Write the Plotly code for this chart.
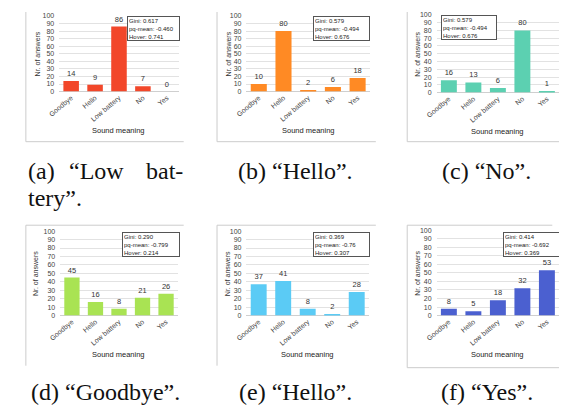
import plotly.graph_objects as go

VW, VH = 567, 409          # browser viewport
OFF = 8                    # default body margin of the html page
W, H = VW - OFF, VH - OFF  # figure size so that it fits the viewport

categories = ["Goodbye", "Hello", "Low battery", "No", "Yes"]
vals_a = [14, 9, 86, 7, 0]
vals_b = [10, 80, 2, 6, 18]
vals_c = [16, 13, 6, 80, 1]
vals_d = [45, 16, 8, 21, 26]
vals_e = [37, 41, 8, 2, 28]
vals_f = [8, 5, 18, 32, 53]
series = [vals_a, vals_b, vals_c, vals_d, vals_e, vals_f]

gini = ["0.617", "0.579", "0.579", "0.290", "0.369", "0.414"]
pq_mean = ["-0.460", "-0.494", "-0.494", "-0.799", "-0.76", "-0.692"]
hoyer = ["0.741", "0.676", "0.676", "0.214", "0.307", "0.369"]
y_ticks = [0, 10, 20, 30, 40, 50, 60, 70, 80, 90, 100]

captions = ["(b) \u201cHello\u201d.", "(c) \u201cNo\u201d.",
            "(d) \u201cGoodbye\u201d.", "(e) \u201cHello\u201d.", "(f) \u201cYes\u201d."]
caption_a = ["(a)", "\u201cLow", "bat-", "tery\u201d."]

colors = ["#F2472A", "#FF8A24", "#5CD0B1", "#A9E353", "#5BCBF5", "#4B60D0"]

# pixel geometry (viewport pixels) of each panel: plot area, stats box, y-title x
panels = [
    dict(x0=49, x1=171, yt=12, yb=89, box=(118, 12, 171, 37), ytx=27),
    dict(x0=240, x1=366, yt=12, yb=89, box=(308, 12, 365, 37), ytx=222),
    dict(x0=434, x1=559, yt=11, yb=90, box=(438, 11, 494, 36), ytx=415),
    dict(x0=50, x1=170, yt=231, yb=317, box=(113, 232, 171, 257), ytx=25),
    dict(x0=240, x1=365, yt=231, yb=317, box=(308, 232, 365, 257), ytx=221),
    dict(x0=434, x1=559, yt=230, yb=317, box=(502, 232, 559, 257), ytx=415),
]

def px(x):
    return min(max((x - OFF) / W, 0), 1)

def py(y):
    return min(max(1 - (y - OFF) / H, 0), 1)

fig = go.Figure()
annotations = []
shapes = []
tickfont = dict(family="Liberation Sans, Arial", size=7, color="#444444")

for i, (vals, p) in enumerate(zip(series, panels)):
    n = "" if i == 0 else str(i + 1)
    fig.add_trace(go.Bar(
        x=categories, y=vals, xaxis="x" + n, yaxis="y" + n,
        marker=dict(color=colors[i], line=dict(width=0)),
        text=vals, texttemplate="%{y}", textposition="outside",
        textfont=dict(family="Liberation Sans, Arial", size=7.5, color="#333333"),
        constraintext="none", cliponaxis=False, showlegend=False,
    ))
    fig.layout["xaxis" + n] = dict(
        domain=[px(p["x0"]), px(p["x1"])], anchor="y" + n,
        range=[-0.5, 4.5], tickangle=-40, tickfont=tickfont,
        showgrid=False, showline=False, ticks="", fixedrange=True,
    )
    fig.layout["yaxis" + n] = dict(
        domain=[py(p["yb"]), py(p["yt"])], anchor="x" + n,
        range=[0, 100], tickvals=y_ticks, tickfont=tickfont,
        showgrid=True, gridcolor="#e2e2e2", gridwidth=1,
        zeroline=True, zerolinecolor="#cfcfcf", zerolinewidth=1,
        showline=False, ticks="", ticklabelstandoff=4,
    )
    annotations.append(dict(
        text="Nr. of answers", xref="paper", yref="paper",
        x=px(p["ytx"]), y=py((p["yt"] + p["yb"]) / 2), textangle=-90,
        showarrow=False, xanchor="center", yanchor="middle",
        font=dict(family="Liberation Sans, Arial", size=7, color="#333333"),
    ))
    annotations.append(dict(
        text="Sound meaning", xref="paper", yref="paper",
        x=px((p["x0"] + p["x1"]) / 2), y=py(p["yb"] + 40),
        showarrow=False, xanchor="center", yanchor="middle",
        font=dict(family="Liberation Sans, Arial", size=7.5, color="#222222"),
    ))
    bx0, by0, bx1, by1 = p["box"]
    annotations.append(dict(
        text="Gini: %s<br>pq-mean: %s<br>Hoyer: %s" % (gini[i], pq_mean[i], hoyer[i]),
        xref="paper", yref="paper", x=px(bx0), y=py(by0),
        xanchor="left", yanchor="top", align="left", valign="top",
        width=bx1 - bx0 - 4, height=max(by1 - by0, 25) - 4,
        bgcolor="white", bordercolor="#555555", borderwidth=1, borderpad=1,
        showarrow=False,
        font=dict(family="Liberation Sans, Arial", size=6, color="#222222"),
    ))

border_lines = [
    (15, 0, 15, 140), (15, 140, 176, 140),
    (210, 0, 210, 140), (210, 140, 372, 140),
    (404, 0, 404, 140), (404, 140, 567, 140),
    (15, 225, 176, 225), (15, 225, 15, 368),
    (210, 225, 372, 225), (210, 225, 210, 368),
    (404, 225, 552, 225), (404, 225, 404, 370), (404, 370, 567, 370),
]
for (a, b, c, d) in border_lines:
    shapes.append(dict(type="line", xref="paper", yref="paper",
                       x0=px(a), y0=py(b), x1=px(c), y1=py(d),
                       line=dict(color="#cccccc", width=1)))

capfont = dict(family="Liberation Serif, Times New Roman", size=24, color="#111111")
r1, r1b, r2 = 170, 197, 395
annotations.append(dict(text=caption_a[0], xref="paper", yref="paper", x=px(15), y=py(r1),
                        xanchor="left", yanchor="middle", showarrow=False, font=capfont))
annotations.append(dict(text=caption_a[1], xref="paper", yref="paper", x=px(57), y=py(r1),
                        xanchor="left", yanchor="middle", showarrow=False, font=capfont))
annotations.append(dict(text=caption_a[2], xref="paper", yref="paper", x=px(177), y=py(r1),
                        xanchor="right", yanchor="middle", showarrow=False, font=capfont))
annotations.append(dict(text=caption_a[3], xref="paper", yref="paper", x=px(15), y=py(r1b),
                        xanchor="left", yanchor="middle", showarrow=False, font=capfont))
cap_pos = [(290, r1), (485, r1), (96, r2), (290, r2), (485, r2)]
for txt, (cx, cy) in zip(captions, cap_pos):
    annotations.append(dict(text=txt, xref="paper", yref="paper", x=px(cx), y=py(cy),
                            xanchor="center", yanchor="middle", showarrow=False, font=capfont))

fig.update_layout(
    width=W, height=H, autosize=False,
    margin=dict(l=0, r=0, t=0, b=0),
    paper_bgcolor="white", plot_bgcolor="white",
    bargap=0.35, annotations=annotations, shapes=shapes,
)

fig.write_html("out.html")
